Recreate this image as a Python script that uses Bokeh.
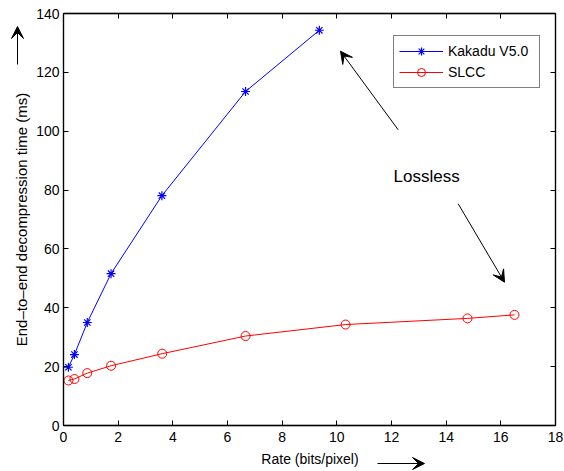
import numpy as np
from bokeh.plotting import figure
from bokeh.models import (Range1d, LinearAxis, FixedTicker, Arrow, VeeHead,
                          Label, Legend, LegendItem, BoxAnnotation)
from bokeh.embed import file_html
from bokeh.resources import INLINE

# ---- data ----
kakadu_rate = [0.18, 0.40, 0.87, 1.74, 3.60, 6.66, 9.36]
kakadu_time = [19.8, 24.1, 35.0, 51.6, 78.1, 113.5, 134.3]

slcc_rate = [0.18, 0.40, 0.87, 1.74, 3.61, 6.66, 10.32, 14.78, 16.50]
slcc_time = [15.3, 15.8, 17.8, 20.3, 24.4, 30.4, 34.3, 36.4, 37.6]

x_ticks = [0, 2, 4, 6, 8, 10, 12, 14, 16, 18]
y_ticks = [0, 20, 40, 60, 80, 100, 120, 140]

series_names = ["Kakadu V5.0", "SLCC"]
x_label = "Rate (bits/pixel)"
y_label = "End\u2013to\u2013end decompression time (ms)"
note = "Lossless"

FONT = "Liberation Sans"

# ---- layout: axes box position in the page (pixels) ----
W, H = 564, 471
BOX_L, BOX_R, BOX_T, BOX_B = 63, 555, 13, 425
X0, X1 = x_ticks[0], x_ticks[-1]
Y0, Y1 = y_ticks[0], y_ticks[-1]
sx = (BOX_R - BOX_L) / (X1 - X0)
sy = (BOX_B - BOX_T) / (Y1 - Y0)
x_range = Range1d(X0 - BOX_L / sx, X1 + (W - BOX_R) / sx)
y_range = Range1d(Y0 - (H - BOX_B) / sy, Y1 + BOX_T / sy)


def dx(px):  # page x -> data x
    return X0 + (px - BOX_L) / sx


def dy(py):  # page y -> data y
    return Y0 + (BOX_B - py) / sy


p = figure(width=W, height=H, output_backend="svg", toolbar_location=None,
           x_range=x_range, y_range=y_range,
           x_axis_type=None, y_axis_type=None,
           min_border=0)
p.grid.visible = False
p.outline_line_color = None
p.background_fill_color = "white"
p.border_fill_color = "white"


def make_axis(ticks, loc, labels=True, standoff=5):
    ax = LinearAxis(ticker=FixedTicker(ticks=ticks), fixed_location=loc,
                    bounds=(ticks[0], ticks[-1]))
    ax.major_tick_in = 5
    ax.major_tick_out = 0
    ax.minor_tick_line_color = None
    ax.axis_line_color = "black"
    ax.axis_line_width = 1.3
    ax.major_tick_line_color = "black"
    ax.major_tick_line_width = 1
    ax.major_label_text_font = FONT
    ax.major_label_text_font_size = "14px"
    ax.major_label_standoff = standoff
    ax.major_label_text_color = "black" if labels else None
    return ax


p.add_layout(make_axis(x_ticks, Y0, True, 6), "below")
p.add_layout(make_axis(y_ticks, X0, True, 4), "left")
p.add_layout(make_axis(x_ticks, Y1, False), "above")
p.add_layout(make_axis(y_ticks, X1, False), "right")
p.add_layout(BoxAnnotation(left=X0, right=X1, bottom=Y0, top=Y1,
                           fill_color=None, line_color="black", line_width=1.3))

# ---- series ----
k_line = p.line(kakadu_rate, kakadu_time, line_color="blue", line_width=1)
k_mark = p.scatter(kakadu_rate, kakadu_time, marker="asterisk", size=9,
                   line_color="blue", line_width=1.2)
s_line = p.line(slcc_rate, slcc_time, line_color="red", line_width=1)
s_mark = p.scatter(slcc_rate, slcc_time, marker="circle", size=9,
                   line_color="red", fill_color=None, line_width=1)

legend = Legend(items=[LegendItem(label=series_names[0], renderers=[k_line, k_mark]),
                       LegendItem(label=series_names[1], renderers=[s_line, s_mark])],
                location=(393, H - 88))
legend.label_text_font = FONT
legend.label_text_font_size = "14px"
legend.label_text_color = "black"
legend.glyph_width = 44
legend.glyph_height = 20
legend.label_height = 20
legend.label_width = 86
legend.label_standoff = 5
legend.spacing = 1
legend.padding = 5
legend.margin = 0
legend.border_line_color = "black"
legend.border_line_width = 1.5
legend.background_fill_color = "white"
legend.background_fill_alpha = 1
p.add_layout(legend, "center")

# ---- annotations ----
head = dict(size=12, fill_color="black", line_color="black")
p.add_layout(Arrow(end=VeeHead(**head),
                   x_start=dx(397.7), y_start=dy(129.3), x_end=dx(340), y_end=dy(50.7),
                   line_color="black", line_width=1))
p.add_layout(Arrow(end=VeeHead(**head),
                   x_start=dx(457.7), y_start=dy(203.3), x_end=dx(504), y_end=dy(281.7),
                   line_color="black", line_width=1))
p.add_layout(Label(x=dx(393), y=dy(176), text=note, text_font=FONT,
                   text_font_size="17px", text_color="black",
                   text_align="left", text_baseline="middle"))

# axis titles and direction arrows
p.add_layout(Label(x=dx(21), y=(Y0 + Y1) / 2, text=y_label, angle=np.pi / 2,
                   text_font=FONT, text_font_size="15px", text_color="black",
                   text_align="center", text_baseline="middle"))
p.add_layout(Arrow(end=VeeHead(**head),
                   x_start=dx(17), y_start=dy(64), x_end=dx(17), y_end=dy(26),
                   line_color="black", line_width=1))
p.add_layout(Label(x=dx(309.5), y=dy(458), text=x_label,
                   text_font=FONT, text_font_size="14px", text_color="black",
                   text_align="center", text_baseline="middle"))
p.add_layout(Arrow(end=VeeHead(**head),
                   x_start=dx(377), y_start=dy(463), x_end=dx(424), y_end=dy(463),
                   line_color="black", line_width=1))

open("out.html", "w").write(file_html(p, INLINE))
